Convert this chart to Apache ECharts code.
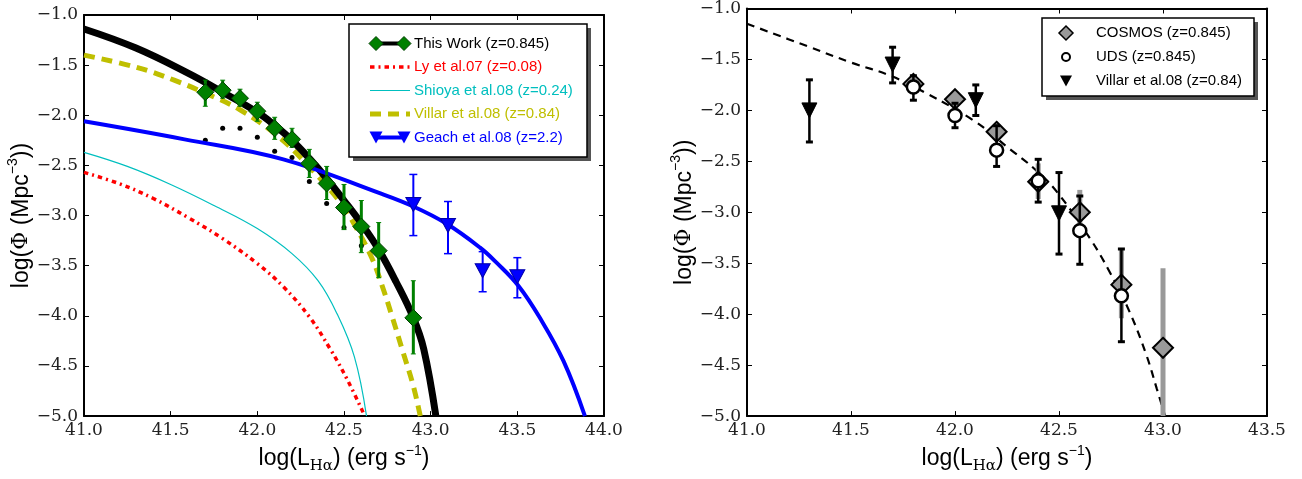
<!DOCTYPE html>
<html><head><meta charset="utf-8">
<script src="https://cdn.jsdelivr.net/npm/echarts@6.0.0/dist/echarts.min.js"></script>
<style>html,body{margin:0;padding:0;background:#fff}#c{width:1302px;height:479px}</style>
</head><body><div id="c"></div>
<script>
// ---------------- LEFT PANEL DATA ----------------
const thisWorkX  = [41.7, 41.8, 41.9, 42.0, 42.1, 42.2, 42.3, 42.4, 42.5, 42.6, 42.7, 42.9];
const thisWorkY  = [-1.77, -1.75, -1.83, -1.96, -2.13, -2.24, -2.48, -2.68, -2.92, -3.11, -3.35, -4.02];
const thisWorkHi = [-1.65, -1.65, -1.74, -1.87, -2.02, -2.13, -2.34, -2.51, -2.69, -2.85, -3.07, -3.65];
const thisWorkLo = [-1.91, -1.83, -1.91, -2.06, -2.24, -2.32, -2.62, -2.84, -3.14, -3.37, -3.62, -4.38];

const dotsX = [41.7, 41.8, 41.9, 42.0, 42.1, 42.2, 42.3, 42.4, 42.5, 42.6];
const dotsY = [-2.25, -2.13, -2.13, -2.22, -2.36, -2.42, -2.66, -2.88, -3.12, -3.30];

const thisWorkFitX = [41.0, 41.3, 41.6, 41.8, 42.0, 42.1, 42.2, 42.3, 42.4, 42.5, 42.6, 42.7, 42.8, 42.9, 42.96, 43.03];
const thisWorkFitY = [-1.14, -1.33, -1.58, -1.77, -1.97, -2.10, -2.25, -2.43, -2.63, -2.85, -3.08, -3.34, -3.66, -4.02, -4.33, -5.0];

const lyX = [41.0, 41.2, 41.4, 41.6, 41.8, 42.0, 42.15, 42.3, 42.42, 42.52, 42.62];
const lyY = [-2.57, -2.68, -2.83, -3.02, -3.23, -3.48, -3.71, -4.01, -4.33, -4.64, -5.0];

const shioyaX = [41.0, 41.25, 41.5, 41.75, 42.0, 42.2, 42.35, 42.46, 42.56, 42.63];
const shioyaY = [-2.37, -2.51, -2.69, -2.90, -3.13, -3.38, -3.65, -3.98, -4.41, -5.0];

const villarFitX = [41.0, 41.3, 41.52, 41.7, 41.9, 42.12, 42.27, 42.48, 42.56, 42.66, 42.72, 42.78, 42.84, 42.9, 42.94];
const villarFitY = [-1.40, -1.52, -1.65, -1.78, -1.945, -2.21, -2.46, -2.87, -3.09, -3.42, -3.70, -4.02, -4.36, -4.70, -5.0];

const geachFitX = [41.0, 41.58, 42.15, 42.71, 42.9, 43.09, 43.285, 43.38, 43.506, 43.63, 43.766, 43.89];
const geachFitY = [-2.06, -2.24, -2.44, -2.78, -2.91, -3.08, -3.32, -3.47, -3.70, -4.02, -4.45, -5.0];

const geachX  = [42.9, 43.1, 43.3, 43.5];
const geachY  = [-2.89, -3.10, -3.55, -3.61];
const geachHi = [-2.59, -2.86, -3.36, -3.42];
const geachLo = [-3.20, -3.38, -3.76, -3.82];

// ---------------- RIGHT PANEL DATA ----------------
const fitRX = [41.0, 41.29, 41.5, 41.69, 41.86, 42.09, 42.27, 42.38, 42.49, 42.65, 42.745, 42.84, 42.92, 42.97, 43.01];
const fitRY = [-1.15, -1.37, -1.53, -1.66, -1.83, -2.10, -2.39, -2.57, -2.80, -3.26, -3.59, -3.98, -4.40, -4.73, -5.0];

const cosmosX  = [41.8, 42.0, 42.2, 42.4, 42.6, 42.8, 43.0];
const cosmosY  = [-1.74, -1.89, -2.21, -2.70, -3.00, -3.71, -4.33];
const cosmosHi = [-1.71, -1.86, -2.18, -2.52, -2.78, -3.36, -3.55];
const cosmosLo = [-1.77, -1.92, -2.24, -2.87, -3.22, -4.04, -5.0];

const udsX  = [41.8, 42.0, 42.2, 42.4, 42.6, 42.8];
const udsY  = [-1.77, -2.05, -2.39, -2.69, -3.18, -3.82];
const udsHi = [-1.66, -1.93, -2.15, -2.48, -2.84, -3.36];
const udsLo = [-1.90, -2.17, -2.55, -2.90, -3.51, -4.27];

const villarX  = [41.3, 41.7, 42.1, 42.5];
const villarY  = [-2.00, -1.55, -1.90, -3.01];
const villarHi = [-1.70, -1.38, -1.75, -2.61];
const villarLo = [-2.31, -1.73, -2.05, -3.41];

// tick setup
const yMin = -5.0, yMax = -1.0, yStep = 0.5;
const xMinL = 41.0, xMaxL = 44.0, xMinR = 41.0, xMaxR = 43.5, xStep = 0.5;

// legend labels
const legendLeft = ['This Work (z=0.845)', 'Ly et al.07 (z=0.08)', 'Shioya et al.08 (z=0.24)', 'Villar et al.08 (z=0.84)', 'Geach et al.08 (z=2.2)'];
const legendRight = ['COSMOS (z=0.845)', 'UDS (z=0.845)', 'Villar et al.08 (z=0.84)'];

// ---------------- STYLE ----------------
const SANS = 'Liberation Sans, Arial, sans-serif';
const SERIF = 'DejaVu Serif, serif';
const GREEN = '#008000', RED = '#FF0000', CYAN = '#00BFBF', YELLOW = '#BFBF00', BLUE = '#0000FF';

const zip = (a, b) => a.map((v, i) => [v, b[i]]);
const fmt = v => (v < 0 ? '\u2212' : '') + Math.abs(v).toFixed(1);

const xName = '{a|log(L}{sub|Hα}{a|) (erg s}{sup|−1}{a|)}';
const yName = '{a|log(}{f|Φ}{a| (Mpc}{sup|−3}{a|))}';
const nameRich = {
  a: { fontFamily: SANS, fontSize: 23, lineHeight: 30, color: '#000' },
  f: { fontFamily: SERIF, fontSize: 22, lineHeight: 30, color: '#000' },
  sub: { fontFamily: SERIF, fontSize: 15, lineHeight: 21, verticalAlign: 'bottom', color: '#000' },
  sup: { fontFamily: SANS, fontSize: 14, lineHeight: 15, verticalAlign: 'top', color: '#000' }
};

function xAxisCfg(grid, min, max, pos, withLabel) {
  return {
    type: 'value', gridIndex: grid, min, max, interval: xStep, position: pos,
    axisLine: { show: true, onZero: false, lineStyle: { color: '#000', width: 2 } },
    axisTick: { show: true, inside: true, length: 5, lineStyle: { color: '#000', width: 1 } },
    axisLabel: { show: withLabel, formatter: fmt, fontFamily: SERIF, fontSize: 17, color: '#222', margin: 6 },
    splitLine: { show: false },
    name: withLabel ? xName : '', nameLocation: 'middle', nameGap: 25,
    nameTextStyle: { rich: nameRich }
  };
}
function yAxisCfg(grid, pos, withLabel) {
  return {
    type: 'value', gridIndex: grid, min: yMin, max: yMax, interval: yStep, position: pos,
    axisLine: { show: true, onZero: false, lineStyle: { color: '#000', width: 2 } },
    axisTick: { show: true, inside: true, length: 5, lineStyle: { color: '#000', width: 1 } },
    axisLabel: { show: withLabel, formatter: fmt, fontFamily: SERIF, fontSize: 17, color: '#222', margin: 6 },
    splitLine: { show: false },
    name: withLabel ? yName : '', nameLocation: 'middle', nameGap: 44, nameRotate: 90,
    nameTextStyle: { rich: nameRich }
  };
}

function lineSeries(xi, xs, ys, color, width, dash, z) {
  return {
    type: 'line', xAxisIndex: xi, yAxisIndex: xi, data: zip(xs, ys), showSymbol: false, symbol: 'none',
    smooth: 0.4, z, silent: true,
    lineStyle: { color, width, type: dash || 'solid', cap: 'butt' }
  };
}
function errSeries(xi, xs, hi, lo, color, width, capW, capT, capColor, z) {
  return {
    type: 'custom', xAxisIndex: xi, yAxisIndex: xi, z, silent: true,
    data: xs.map((x, i) => [x, hi[i], lo[i]]),
    encode: { x: 0, y: [1, 2] },
    renderItem: (params, api) => {
      const x = api.value(0);
      const p1 = api.coord([x, api.value(1)]);
      const p2 = api.coord([x, api.value(2)]);
      const h = capW / 2;
      const children = [
        { type: 'line', shape: { x1: p1[0], y1: p1[1], x2: p2[0], y2: p2[1] }, style: { stroke: color, lineWidth: width } }
      ];
      if (capW > 0) {
        children.push({ type: 'line', shape: { x1: p1[0] - h, y1: p1[1], x2: p1[0] + h, y2: p1[1] }, style: { stroke: capColor, lineWidth: capT } });
        children.push({ type: 'line', shape: { x1: p2[0] - h, y1: p2[1], x2: p2[0] + h, y2: p2[1] }, style: { stroke: capColor, lineWidth: capT } });
      }
      return { type: 'group', children };
    }
  };
}
function scatterSeries(xi, xs, ys, symbol, size, color, border, bw, rotate, z) {
  return {
    type: 'scatter', xAxisIndex: xi, yAxisIndex: xi, data: zip(xs, ys), symbol, symbolSize: size,
    symbolRotate: rotate || 0, z, silent: true,
    itemStyle: { color, borderColor: border, borderWidth: bw, opacity: 1 }
  };
}

// ---------------- LEGENDS (graphic) ----------------
function diamond(cx, cy, r, fill, stroke, lw) {
  return { type: 'polygon', shape: { points: [[cx, cy - r], [cx + r, cy], [cx, cy + r], [cx - r, cy]] }, style: { fill, stroke, lineWidth: lw }, z: 110 };
}
function triDown(cx, cy, w, h, fill, stroke, lw) {
  return { type: 'polygon', shape: { points: [[cx - w / 2, cy - h / 2], [cx + w / 2, cy - h / 2], [cx, cy + h / 2]] }, style: { fill, stroke, lineWidth: lw || 0 }, z: 110 };
}
function lgLine(x1, x2, y, color, w, dash) {
  return { type: 'line', shape: { x1, y1: y, x2, y2: y }, style: { stroke: color, lineWidth: w, lineDash: dash || null }, z: 105 };
}
function lgText(x, y, text, color) {
  return { type: 'text', x, y, style: { text, fill: color, fontSize: 15, fontFamily: SANS, verticalAlign: 'middle', align: 'left' }, z: 110 };
}

const LB = { x: 349, y: 24, w: 238, h: 133 };
const lRows = [43.5, 67, 90.5, 114, 137.5];
const lx1 = 370, lx2 = 410, ltx = 414;
const leftLegend = [
  { type: 'rect', shape: { x: LB.x + 4, y: LB.y + 4, width: LB.w, height: LB.h }, style: { fill: '#555' }, z: 100 },
  { type: 'rect', shape: { x: LB.x, y: LB.y, width: LB.w, height: LB.h }, style: { fill: '#fff', stroke: '#000', lineWidth: 1.5 }, z: 101 },
  lgLine(lx1 + 6, lx2 - 6, lRows[0], '#000', 4),
  diamond(lx1 + 6, lRows[0], 7, GREEN, '#004000', 1),
  diamond(lx2 - 6, lRows[0], 7, GREEN, '#004000', 1),
  lgText(ltx, lRows[0], legendLeft[0], '#000'),
  lgLine(lx1, lx2, lRows[1], RED, 3.5, [4.5, 4, 2, 4]),
  lgText(ltx, lRows[1], legendLeft[1], RED),
  lgLine(lx1, lx2, lRows[2], CYAN, 1.2),
  lgText(ltx, lRows[2], legendLeft[2], CYAN),
  lgLine(lx1, lx2, lRows[3], YELLOW, 5, [11, 7]),
  lgText(ltx, lRows[3], legendLeft[3], YELLOW),
  lgLine(lx1 + 6, lx2 - 6, lRows[4], BLUE, 4),
  triDown(lx1 + 6, lRows[4], 13, 12, BLUE),
  triDown(lx2 - 6, lRows[4], 13, 12, BLUE),
  lgText(ltx, lRows[4], legendLeft[4], BLUE)
];

const RB = { x: 1042, y: 18, w: 212, h: 78 };
const rRows = [33, 57, 81];
const rmx = 1066, rtx = 1096;
const rightLegend = [
  { type: 'rect', shape: { x: RB.x + 4, y: RB.y + 4, width: RB.w, height: RB.h }, style: { fill: '#555' }, z: 100 },
  { type: 'rect', shape: { x: RB.x, y: RB.y, width: RB.w, height: RB.h }, style: { fill: '#fff', stroke: '#000', lineWidth: 1.5 }, z: 101 },
  diamond(rmx, rRows[0], 7, '#999', '#000', 1.5),
  lgText(rtx, rRows[0], legendRight[0], '#000'),
  { type: 'circle', shape: { cx: rmx, cy: rRows[1], r: 4 }, style: { fill: '#fff', stroke: '#000', lineWidth: 2 }, z: 110 },
  lgText(rtx, rRows[1], legendRight[1], '#000'),
  triDown(rmx, rRows[2], 12, 11, '#000'),
  lgText(rtx, rRows[2], legendRight[2], '#000')
];

// ---------------- OPTION ----------------
const option = {
  animation: false,
  backgroundColor: '#fff',
  grid: [
    { left: 84, top: 15, width: 520, height: 404, containLabel: false },
    { left: 747, top: 8, width: 520, height: 410, containLabel: false }
  ],
  xAxis: [
    xAxisCfg(0, xMinL, xMaxL, 'bottom', true),
    xAxisCfg(0, xMinL, xMaxL, 'top', false),
    xAxisCfg(1, xMinR, xMaxR, 'bottom', true),
    xAxisCfg(1, xMinR, xMaxR, 'top', false)
  ],
  yAxis: [
    yAxisCfg(0, 'left', true),
    yAxisCfg(0, 'right', false),
    yAxisCfg(1, 'left', true),
    yAxisCfg(1, 'right', false)
  ],
  graphic: leftLegend.concat(rightLegend),
  series: [
    // left panel
    lineSeries(0, lyX, lyY, RED, 3.5, [4.5, 4, 2, 4], 2),
    lineSeries(0, shioyaX, shioyaY, CYAN, 1.2, null, 2),
    lineSeries(0, villarFitX, villarFitY, YELLOW, 5, [11, 7], 3),
    lineSeries(0, thisWorkFitX, thisWorkFitY, '#000', 7, null, 4),
    lineSeries(0, geachFitX, geachFitY, BLUE, 4, null, 5),
    scatterSeries(0, dotsX, dotsY, 'circle', 5, '#000', '#000', 0, 0, 3),
    errSeries(0, thisWorkX, thisWorkHi, thisWorkLo, GREEN, 3, 5, 1, GREEN, 6),
    scatterSeries(0, thisWorkX, thisWorkY, 'diamond', 17, GREEN, '#004000', 1, 0, 7),
    errSeries(0, geachX, geachHi, geachLo, BLUE, 2, 8, 1.5, BLUE, 6),
    scatterSeries(0, geachX, geachY, 'triangle', [15, 14], BLUE, '#0000AA', 1, 180, 7),
    // right panel (axis index 2)
    lineSeries(2, fitRX, fitRY, '#000', 2.2, [8, 6], 2),
    errSeries(2, cosmosX, cosmosHi, cosmosLo, '#999', 5, 0, 0, '#999', 3),
    scatterSeries(2, cosmosX, cosmosY, 'diamond', 20, '#999', '#000', 2, 0, 4),
    errSeries(2, udsX, udsHi, udsLo, '#000', 2.5, 7, 3, '#000', 5),
    scatterSeries(2, udsX, udsY, 'circle', 13, '#fff', '#000', 2.5, 0, 6),
    errSeries(2, villarX, villarHi, villarLo, '#000', 2.5, 7, 3, '#000', 5),
    scatterSeries(2, villarX, villarY, 'triangle', [15, 15], '#000', '#000', 1, 180, 6)
  ]
};

const chart = echarts.init(document.getElementById('c'), null, { renderer: 'canvas' });
chart.setOption(option);
</script></body></html>
